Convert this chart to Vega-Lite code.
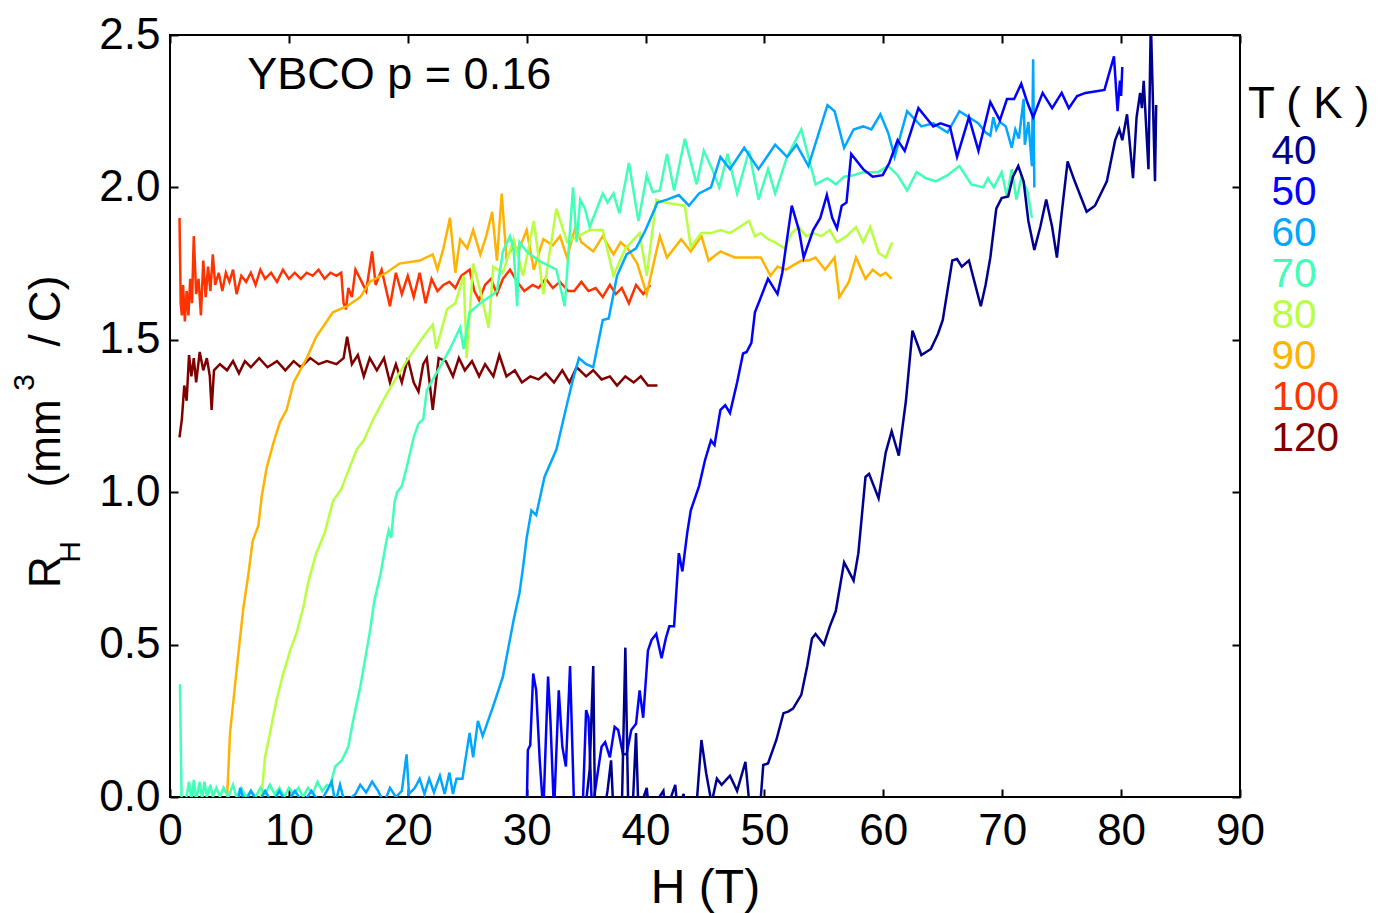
{
"$schema": "https://vega.github.io/schema/vega-lite/v6.json",
"width": 1070, "height": 762,
"autosize": {"type": "none"},
"padding": {"left": 170, "top": 35, "right": 143, "bottom": 116},
"background": "white",
"config": {
  "view": {"stroke": "black", "strokeWidth": 2},
  "font": "Liberation Sans",
  "axis": {"grid": false, "domain": false, "tickColor": "black", "tickWidth": 2, "tickSize": -8, "labelFont": "Liberation Sans", "labelFontSize": 44, "labelColor": "black", "titleFont": "Liberation Sans", "titleFontWeight": "normal", "titleColor": "black", "labelFlush": false, "labelOverlap": false},
  "legend": {"labelFont": "Liberation Sans", "titleFont": "Liberation Sans"}
},
"resolve": {"axis": {"x": "independent", "y": "independent"}},
"layer": [
{
"data": {"values": [
{"T":120,"H":0.8,"R":1.18},{"T":120,"H":1.0,"R":1.24},{"T":120,"H":1.2,"R":1.35},{"T":120,"H":1.4,"R":1.30},{"T":120,"H":1.6,"R":1.45},{"T":120,"H":1.8,"R":1.38},{"T":120,"H":2.0,"R":1.44},{"T":120,"H":2.2,"R":1.36},{"T":120,"H":2.5,"R":1.46},{"T":120,"H":2.8,"R":1.40},{"T":120,"H":3.1,"R":1.44},{"T":120,"H":3.35,"R":1.38},{"T":120,"H":3.5,"R":1.27},{"T":120,"H":3.7,"R":1.40},{"T":120,"H":4.2,"R":1.42},{"T":120,"H":4.8,"R":1.40},{"T":120,"H":5.3,"R":1.43},{"T":120,"H":5.8,"R":1.39},{"T":120,"H":6.3,"R":1.43},{"T":120,"H":6.8,"R":1.41},{"T":120,"H":7.5,"R":1.44},{"T":120,"H":8.2,"R":1.41},{"T":120,"H":9.0,"R":1.43},{"T":120,"H":9.7,"R":1.40},{"T":120,"H":10.4,"R":1.43},{"T":120,"H":11.0,"R":1.41},{"T":120,"H":11.8,"R":1.44},{"T":120,"H":12.5,"R":1.42},{"T":120,"H":13.2,"R":1.43},{"T":120,"H":14.0,"R":1.42},{"T":120,"H":14.6,"R":1.44},{"T":120,"H":14.9,"R":1.51},{"T":120,"H":15.3,"R":1.42},{"T":120,"H":15.8,"R":1.45},{"T":120,"H":16.3,"R":1.38},{"T":120,"H":16.8,"R":1.44},{"T":120,"H":17.4,"R":1.40},{"T":120,"H":18.0,"R":1.44},{"T":120,"H":18.5,"R":1.36},{"T":120,"H":19.0,"R":1.42},{"T":120,"H":19.5,"R":1.36},{"T":120,"H":20.0,"R":1.44},{"T":120,"H":20.5,"R":1.36},{"T":120,"H":20.9,"R":1.33},{"T":120,"H":21.3,"R":1.42},{"T":120,"H":21.6,"R":1.44},{"T":120,"H":22.1,"R":1.27},{"T":120,"H":22.6,"R":1.44},{"T":120,"H":23.2,"R":1.43},{"T":120,"H":23.8,"R":1.38},{"T":120,"H":24.3,"R":1.44},{"T":120,"H":24.8,"R":1.40},{"T":120,"H":25.4,"R":1.43},{"T":120,"H":26.0,"R":1.38},{"T":120,"H":26.5,"R":1.42},{"T":120,"H":27.2,"R":1.38},{"T":120,"H":27.7,"R":1.45},{"T":120,"H":28.3,"R":1.38},{"T":120,"H":29.0,"R":1.40},{"T":120,"H":29.6,"R":1.36},{"T":120,"H":30.3,"R":1.38},{"T":120,"H":31.0,"R":1.37},{"T":120,"H":31.6,"R":1.39},{"T":120,"H":32.3,"R":1.36},{"T":120,"H":33.0,"R":1.40},{"T":120,"H":33.6,"R":1.36},{"T":120,"H":34.2,"R":1.41},{"T":120,"H":35.0,"R":1.38},{"T":120,"H":35.6,"R":1.40},{"T":120,"H":36.3,"R":1.37},{"T":120,"H":37.0,"R":1.38},{"T":120,"H":37.6,"R":1.35},{"T":120,"H":38.3,"R":1.38},{"T":120,"H":39.0,"R":1.36},{"T":120,"H":39.6,"R":1.38},{"T":120,"H":40.2,"R":1.35},{"T":120,"H":41.0,"R":1.35},
{"T":100,"H":0.8,"R":1.90},{"T":100,"H":0.9,"R":1.62},{"T":100,"H":1.0,"R":1.58},{"T":100,"H":1.1,"R":1.68},{"T":100,"H":1.25,"R":1.56},{"T":100,"H":1.4,"R":1.66},{"T":100,"H":1.55,"R":1.58},{"T":100,"H":1.7,"R":1.70},{"T":100,"H":1.85,"R":1.62},{"T":100,"H":2.0,"R":1.84},{"T":100,"H":2.2,"R":1.65},{"T":100,"H":2.4,"R":1.70},{"T":100,"H":2.6,"R":1.58},{"T":100,"H":2.8,"R":1.76},{"T":100,"H":3.0,"R":1.64},{"T":100,"H":3.2,"R":1.74},{"T":100,"H":3.4,"R":1.66},{"T":100,"H":3.6,"R":1.78},{"T":100,"H":3.8,"R":1.68},{"T":100,"H":4.1,"R":1.72},{"T":100,"H":4.4,"R":1.66},{"T":100,"H":4.7,"R":1.72},{"T":100,"H":5.0,"R":1.69},{"T":100,"H":5.3,"R":1.73},{"T":100,"H":5.6,"R":1.65},{"T":100,"H":6.0,"R":1.71},{"T":100,"H":6.4,"R":1.69},{"T":100,"H":6.8,"R":1.72},{"T":100,"H":7.2,"R":1.68},{"T":100,"H":7.6,"R":1.73},{"T":100,"H":8.0,"R":1.70},{"T":100,"H":8.5,"R":1.72},{"T":100,"H":9.0,"R":1.69},{"T":100,"H":9.5,"R":1.73},{"T":100,"H":10.0,"R":1.70},{"T":100,"H":10.5,"R":1.72},{"T":100,"H":11.0,"R":1.70},{"T":100,"H":11.5,"R":1.72},{"T":100,"H":12.0,"R":1.71},{"T":100,"H":12.5,"R":1.73},{"T":100,"H":13.0,"R":1.70},{"T":100,"H":13.5,"R":1.72},{"T":100,"H":14.0,"R":1.71},{"T":100,"H":14.4,"R":1.72},{"T":100,"H":14.6,"R":1.62},{"T":100,"H":14.8,"R":1.60},{"T":100,"H":15.0,"R":1.67},{"T":100,"H":15.3,"R":1.64},{"T":100,"H":15.6,"R":1.73},{"T":100,"H":16.0,"R":1.70},{"T":100,"H":16.5,"R":1.66},{"T":100,"H":17.0,"R":1.79},{"T":100,"H":17.3,"R":1.68},{"T":100,"H":17.8,"R":1.73},{"T":100,"H":18.5,"R":1.61},{"T":100,"H":19.0,"R":1.72},{"T":100,"H":19.5,"R":1.65},{"T":100,"H":20.0,"R":1.71},{"T":100,"H":20.5,"R":1.64},{"T":100,"H":21.0,"R":1.72},{"T":100,"H":21.5,"R":1.62},{"T":100,"H":22.0,"R":1.70},{"T":100,"H":22.5,"R":1.66},{"T":100,"H":23.0,"R":1.68},{"T":100,"H":23.5,"R":1.69},{"T":100,"H":24.0,"R":1.67},{"T":100,"H":24.5,"R":1.71},{"T":100,"H":25.2,"R":1.73},{"T":100,"H":25.6,"R":1.66},{"T":100,"H":26.0,"R":1.63},{"T":100,"H":26.5,"R":1.68},{"T":100,"H":27.0,"R":1.70},{"T":100,"H":27.5,"R":1.65},{"T":100,"H":28.0,"R":1.70},{"T":100,"H":28.6,"R":1.73},{"T":100,"H":29.2,"R":1.69},{"T":100,"H":29.8,"R":1.66},{"T":100,"H":30.5,"R":1.68},{"T":100,"H":31.0,"R":1.67},{"T":100,"H":31.6,"R":1.70},{"T":100,"H":32.2,"R":1.67},{"T":100,"H":32.8,"R":1.69},{"T":100,"H":33.5,"R":1.66},{"T":100,"H":34.0,"R":1.66},{"T":100,"H":34.6,"R":1.69},{"T":100,"H":35.2,"R":1.66},{"T":100,"H":35.8,"R":1.67},{"T":100,"H":36.4,"R":1.64},{"T":100,"H":37.0,"R":1.68},{"T":100,"H":37.5,"R":1.65},{"T":100,"H":38.0,"R":1.67},{"T":100,"H":38.6,"R":1.62},{"T":100,"H":39.2,"R":1.68},{"T":100,"H":39.8,"R":1.65},{"T":100,"H":40.4,"R":1.68},
{"T":90,"H":4.77,"R":-0.03},{"T":90,"H":5.05,"R":0.21},{"T":90,"H":5.75,"R":0.47},{"T":90,"H":6.17,"R":0.62},{"T":90,"H":6.59,"R":0.73},{"T":90,"H":6.95,"R":0.84},{"T":90,"H":7.43,"R":0.89},{"T":90,"H":7.71,"R":0.985},{"T":90,"H":8.13,"R":1.08},{"T":90,"H":8.69,"R":1.16},{"T":90,"H":9.25,"R":1.23},{"T":90,"H":9.81,"R":1.27},{"T":90,"H":10.4,"R":1.36},{"T":90,"H":11.5,"R":1.44},{"T":90,"H":12.3,"R":1.51},{"T":90,"H":13.7,"R":1.59},{"T":90,"H":14.9,"R":1.61},{"T":90,"H":16.0,"R":1.64},{"T":90,"H":16.8,"R":1.69},{"T":90,"H":18.2,"R":1.72},{"T":90,"H":19.3,"R":1.75},{"T":90,"H":21.0,"R":1.76},{"T":90,"H":22.1,"R":1.78},{"T":90,"H":22.5,"R":1.73},{"T":90,"H":23.0,"R":1.80},{"T":90,"H":23.55,"R":1.90},{"T":90,"H":24.0,"R":1.72},{"T":90,"H":24.4,"R":1.83},{"T":90,"H":25.0,"R":1.80},{"T":90,"H":25.5,"R":1.86},{"T":90,"H":26.1,"R":1.78},{"T":90,"H":26.6,"R":1.84},{"T":90,"H":27.1,"R":1.92},{"T":90,"H":27.5,"R":1.76},{"T":90,"H":27.9,"R":1.98},{"T":90,"H":28.3,"R":1.77},{"T":90,"H":28.9,"R":1.805},{"T":90,"H":29.4,"R":1.80},{"T":90,"H":30.0,"R":1.86},{"T":90,"H":30.6,"R":1.73},{"T":90,"H":31.4,"R":1.83},{"T":90,"H":32.2,"R":1.81},{"T":90,"H":32.8,"R":1.84},{"T":90,"H":33.4,"R":1.77},{"T":90,"H":34.1,"R":1.87},{"T":90,"H":34.6,"R":1.82},{"T":90,"H":35.6,"R":1.79},{"T":90,"H":36.4,"R":1.84},{"T":90,"H":37.3,"R":1.78},{"T":90,"H":37.9,"R":1.82},{"T":90,"H":38.5,"R":1.80},{"T":90,"H":39.3,"R":1.75},{"T":90,"H":40.1,"R":1.65},{"T":90,"H":41.2,"R":1.84},{"T":90,"H":41.8,"R":1.77},{"T":90,"H":43.0,"R":1.83},{"T":90,"H":43.8,"R":1.79},{"T":90,"H":44.7,"R":1.84},{"T":90,"H":45.3,"R":1.76},{"T":90,"H":46.3,"R":1.79},{"T":90,"H":47.5,"R":1.77},{"T":90,"H":48.6,"R":1.77},{"T":90,"H":49.7,"R":1.77},{"T":90,"H":50.5,"R":1.71},{"T":90,"H":51.1,"R":1.74},{"T":90,"H":51.8,"R":1.73},{"T":90,"H":53.1,"R":1.76},{"T":90,"H":53.7,"R":1.76},{"T":90,"H":54.3,"R":1.77},{"T":90,"H":55.1,"R":1.73},{"T":90,"H":55.9,"R":1.77},{"T":90,"H":56.3,"R":1.64},{"T":90,"H":57.1,"R":1.69},{"T":90,"H":57.7,"R":1.77},{"T":90,"H":58.5,"R":1.70},{"T":90,"H":59.1,"R":1.73},{"T":90,"H":59.75,"R":1.71},{"T":90,"H":60.2,"R":1.72},{"T":90,"H":60.7,"R":1.70},
{"T":80,"H":7.4,"R":-0.03},{"T":80,"H":7.71,"R":0.01},{"T":80,"H":7.99,"R":0.13},{"T":80,"H":8.41,"R":0.21},{"T":80,"H":8.97,"R":0.32},{"T":80,"H":9.53,"R":0.405},{"T":80,"H":10.1,"R":0.48},{"T":80,"H":10.66,"R":0.54},{"T":80,"H":11.2,"R":0.62},{"T":80,"H":11.6,"R":0.70},{"T":80,"H":12.3,"R":0.80},{"T":80,"H":13.0,"R":0.865},{"T":80,"H":13.7,"R":0.97},{"T":80,"H":14.4,"R":1.01},{"T":80,"H":15.0,"R":1.07},{"T":80,"H":15.7,"R":1.14},{"T":80,"H":16.3,"R":1.17},{"T":80,"H":17.1,"R":1.24},{"T":80,"H":18.2,"R":1.32},{"T":80,"H":19.9,"R":1.43},{"T":80,"H":21.3,"R":1.51},{"T":80,"H":22.1,"R":1.55},{"T":80,"H":22.4,"R":1.47},{"T":80,"H":23.3,"R":1.60},{"T":80,"H":24.0,"R":1.62},{"T":80,"H":24.7,"R":1.71},{"T":80,"H":24.95,"R":1.44},{"T":80,"H":25.5,"R":1.75},{"T":80,"H":26.1,"R":1.66},{"T":80,"H":26.8,"R":1.54},{"T":80,"H":27.2,"R":1.74},{"T":80,"H":28.0,"R":1.72},{"T":80,"H":28.9,"R":1.83},{"T":80,"H":29.7,"R":1.71},{"T":80,"H":30.6,"R":1.89},{"T":80,"H":31.4,"R":1.65},{"T":80,"H":32.5,"R":1.93},{"T":80,"H":33.4,"R":1.82},{"T":80,"H":35.3,"R":1.86},{"T":80,"H":36.4,"R":1.86},{"T":80,"H":37.3,"R":1.71},{"T":80,"H":38.3,"R":1.80},{"T":80,"H":39.5,"R":1.85},{"T":80,"H":40.1,"R":1.71},{"T":80,"H":40.9,"R":1.96},{"T":80,"H":41.6,"R":1.95},{"T":80,"H":43.3,"R":1.94},{"T":80,"H":43.8,"R":1.805},{"T":80,"H":44.7,"R":1.85},{"T":80,"H":45.5,"R":1.85},{"T":80,"H":46.3,"R":1.86},{"T":80,"H":47.1,"R":1.85},{"T":80,"H":47.9,"R":1.87},{"T":80,"H":48.7,"R":1.89},{"T":80,"H":49.2,"R":1.84},{"T":80,"H":49.7,"R":1.85},{"T":80,"H":50.3,"R":1.83},{"T":80,"H":50.9,"R":1.82},{"T":80,"H":51.7,"R":1.80},{"T":80,"H":52.3,"R":1.85},{"T":80,"H":52.9,"R":1.87},{"T":80,"H":53.5,"R":1.84},{"T":80,"H":54.1,"R":1.85},{"T":80,"H":54.8,"R":1.84},{"T":80,"H":55.5,"R":1.86},{"T":80,"H":56.1,"R":1.82},{"T":80,"H":56.9,"R":1.84},{"T":80,"H":57.7,"R":1.87},{"T":80,"H":58.3,"R":1.82},{"T":80,"H":58.9,"R":1.87},{"T":80,"H":59.6,"R":1.785},{"T":80,"H":60.2,"R":1.77},{"T":80,"H":60.75,"R":1.82},
{"T":70,"H":0.84,"R":0.37},{"T":70,"H":0.98,"R":-0.02},{"T":70,"H":1.3,"R":-0.02},{"T":70,"H":1.6,"R":0.05},{"T":70,"H":1.8,"R":-0.01},{"T":70,"H":2.0,"R":0.056},{"T":70,"H":2.2,"R":-0.01},{"T":70,"H":2.5,"R":0.05},{"T":70,"H":2.7,"R":-0.01},{"T":70,"H":2.9,"R":0.05},{"T":70,"H":3.1,"R":0.0},{"T":70,"H":3.4,"R":0.04},{"T":70,"H":3.6,"R":0.0},{"T":70,"H":3.9,"R":0.03},{"T":70,"H":4.2,"R":0.0},{"T":70,"H":4.5,"R":0.03},{"T":70,"H":4.9,"R":0.0},{"T":70,"H":5.3,"R":0.04},{"T":70,"H":5.6,"R":0.0},{"T":70,"H":6.0,"R":0.03},{"T":70,"H":6.4,"R":0.0},{"T":70,"H":6.8,"R":0.02},{"T":70,"H":7.2,"R":0.0},{"T":70,"H":7.6,"R":0.03},{"T":70,"H":8.0,"R":0.01},{"T":70,"H":8.4,"R":0.04},{"T":70,"H":8.8,"R":0.01},{"T":70,"H":9.2,"R":0.03},{"T":70,"H":9.6,"R":0.0},{"T":70,"H":10.0,"R":0.03},{"T":70,"H":10.4,"R":0.01},{"T":70,"H":10.8,"R":0.03},{"T":70,"H":11.2,"R":0.0},{"T":70,"H":11.6,"R":0.03},{"T":70,"H":12.0,"R":0.01},{"T":70,"H":12.4,"R":0.05},{"T":70,"H":12.8,"R":0.02},{"T":70,"H":13.2,"R":0.04},{"T":70,"H":13.46,"R":0.034},{"T":70,"H":13.9,"R":0.10},{"T":70,"H":14.44,"R":0.12},{"T":70,"H":15.0,"R":0.165},{"T":70,"H":15.4,"R":0.25},{"T":70,"H":16.0,"R":0.36},{"T":70,"H":16.4,"R":0.45},{"T":70,"H":16.8,"R":0.54},{"T":70,"H":17.2,"R":0.646},{"T":70,"H":17.7,"R":0.73},{"T":70,"H":18.2,"R":0.84},{"T":70,"H":18.4,"R":0.875},{"T":70,"H":18.6,"R":0.85},{"T":70,"H":18.9,"R":0.97},{"T":70,"H":19.1,"R":1.0},{"T":70,"H":19.5,"R":1.02},{"T":70,"H":19.9,"R":1.08},{"T":70,"H":20.5,"R":1.18},{"T":70,"H":20.9,"R":1.225},{"T":70,"H":21.3,"R":1.24},{"T":70,"H":21.6,"R":1.335},{"T":70,"H":22.7,"R":1.41},{"T":70,"H":23.55,"R":1.47},{"T":70,"H":24.4,"R":1.54},{"T":70,"H":24.7,"R":1.47},{"T":70,"H":25.2,"R":1.59},{"T":70,"H":26.1,"R":1.62},{"T":70,"H":27.2,"R":1.65},{"T":70,"H":27.5,"R":1.66},{"T":70,"H":28.0,"R":1.79},{"T":70,"H":28.6,"R":1.84},{"T":70,"H":28.9,"R":1.80},{"T":70,"H":29.2,"R":1.61},{"T":70,"H":29.4,"R":1.82},{"T":70,"H":30.0,"R":1.79},{"T":70,"H":31.0,"R":1.76},{"T":70,"H":32.5,"R":1.73},{"T":70,"H":33.2,"R":1.61},{"T":70,"H":33.9,"R":2.0},{"T":70,"H":34.2,"R":1.82},{"T":70,"H":34.5,"R":1.96},{"T":70,"H":34.9,"R":1.93},{"T":70,"H":35.3,"R":1.87},{"T":70,"H":36.4,"R":1.98},{"T":70,"H":36.8,"R":1.95},{"T":70,"H":37.3,"R":1.98},{"T":70,"H":37.8,"R":1.915},{"T":70,"H":38.6,"R":2.08},{"T":70,"H":39.4,"R":1.89},{"T":70,"H":40.1,"R":2.04},{"T":70,"H":40.6,"R":1.985},{"T":70,"H":41.2,"R":1.99},{"T":70,"H":41.8,"R":2.11},{"T":70,"H":42.4,"R":1.99},{"T":70,"H":43.3,"R":2.16},{"T":70,"H":44.3,"R":2.01},{"T":70,"H":44.9,"R":2.12},{"T":70,"H":45.6,"R":2.06},{"T":70,"H":46.2,"R":2.0},{"T":70,"H":46.9,"R":2.11},{"T":70,"H":47.7,"R":1.98},{"T":70,"H":48.7,"R":2.12},{"T":70,"H":49.5,"R":1.96},{"T":70,"H":50.3,"R":2.06},{"T":70,"H":50.9,"R":1.98},{"T":70,"H":51.9,"R":2.10},{"T":70,"H":53.1,"R":2.19},{"T":70,"H":54.3,"R":2.01},{"T":70,"H":55.3,"R":2.03},{"T":70,"H":56.0,"R":2.01},{"T":70,"H":56.7,"R":2.035},{"T":70,"H":57.5,"R":2.04},{"T":70,"H":58.3,"R":2.05},{"T":70,"H":59.55,"R":2.05},{"T":70,"H":60.4,"R":2.07},{"T":70,"H":61.2,"R":2.04},{"T":70,"H":62.0,"R":1.99},{"T":70,"H":62.8,"R":2.05},{"T":70,"H":63.6,"R":2.03},{"T":70,"H":64.4,"R":2.02},{"T":70,"H":65.4,"R":2.04},{"T":70,"H":66.4,"R":2.07},{"T":70,"H":67.4,"R":2.01},{"T":70,"H":68.4,"R":2.0},{"T":70,"H":68.8,"R":2.03},{"T":70,"H":69.3,"R":2.0},{"T":70,"H":69.95,"R":2.05},{"T":70,"H":70.4,"R":1.97},{"T":70,"H":70.8,"R":2.06},{"T":70,"H":71.2,"R":1.96},{"T":70,"H":71.6,"R":2.03},{"T":70,"H":72.1,"R":1.99},{"T":70,"H":72.5,"R":1.90},
{"T":60,"H":5.7,"R":-0.03},{"T":60,"H":5.9,"R":0.03},{"T":60,"H":6.3,"R":-0.02},{"T":60,"H":6.8,"R":0.02},{"T":60,"H":7.4,"R":-0.02},{"T":60,"H":8.0,"R":0.02},{"T":60,"H":8.6,"R":-0.02},{"T":60,"H":9.2,"R":0.02},{"T":60,"H":9.8,"R":-0.02},{"T":60,"H":10.5,"R":0.02},{"T":60,"H":11.2,"R":-0.02},{"T":60,"H":11.9,"R":0.02},{"T":60,"H":12.6,"R":-0.02},{"T":60,"H":13.2,"R":0.02},{"T":60,"H":13.6,"R":0.05},{"T":60,"H":13.9,"R":-0.02},{"T":60,"H":14.3,"R":0.04},{"T":60,"H":14.7,"R":-0.02},{"T":60,"H":15.6,"R":0.01},{"T":60,"H":16.0,"R":0.04},{"T":60,"H":16.5,"R":0.015},{"T":60,"H":17.0,"R":0.05},{"T":60,"H":17.5,"R":0.02},{"T":60,"H":18.0,"R":-0.02},{"T":60,"H":18.5,"R":0.03},{"T":60,"H":19.0,"R":0.0},{"T":60,"H":19.5,"R":0.02},{"T":60,"H":19.9,"R":0.14},{"T":60,"H":20.1,"R":0.01},{"T":60,"H":20.6,"R":0.03},{"T":60,"H":21.0,"R":0.06},{"T":60,"H":21.4,"R":0.01},{"T":60,"H":21.8,"R":0.06},{"T":60,"H":22.2,"R":0.015},{"T":60,"H":22.7,"R":0.07},{"T":60,"H":23.1,"R":0.01},{"T":60,"H":23.5,"R":0.08},{"T":60,"H":23.8,"R":0.01},{"T":60,"H":24.1,"R":0.06},{"T":60,"H":24.6,"R":0.06},{"T":60,"H":25.2,"R":0.21},{"T":60,"H":25.5,"R":0.13},{"T":60,"H":25.9,"R":0.25},{"T":60,"H":26.3,"R":0.20},{"T":60,"H":27.2,"R":0.30},{"T":60,"H":28.0,"R":0.395},{"T":60,"H":28.9,"R":0.58},{"T":60,"H":29.4,"R":0.67},{"T":60,"H":29.7,"R":0.755},{"T":60,"H":30.0,"R":0.85},{"T":60,"H":30.4,"R":0.94},{"T":60,"H":30.8,"R":0.925},{"T":60,"H":31.5,"R":1.05},{"T":60,"H":32.5,"R":1.14},{"T":60,"H":33.4,"R":1.29},{"T":60,"H":33.9,"R":1.37},{"T":60,"H":34.4,"R":1.44},{"T":60,"H":35.0,"R":1.42},{"T":60,"H":35.6,"R":1.41},{"T":60,"H":36.4,"R":1.565},{"T":60,"H":36.9,"R":1.57},{"T":60,"H":37.6,"R":1.71},{"T":60,"H":38.4,"R":1.78},{"T":60,"H":39.2,"R":1.80},{"T":60,"H":40.0,"R":1.86},{"T":60,"H":41.0,"R":1.95},{"T":60,"H":41.8,"R":1.96},{"T":60,"H":42.8,"R":1.975},{"T":60,"H":43.65,"R":1.94},{"T":60,"H":44.5,"R":1.98},{"T":60,"H":45.5,"R":2.0},{"T":60,"H":46.3,"R":2.10},{"T":60,"H":47.1,"R":2.06},{"T":60,"H":48.3,"R":2.13},{"T":60,"H":49.5,"R":2.06},{"T":60,"H":50.9,"R":2.14},{"T":60,"H":51.9,"R":2.10},{"T":60,"H":52.7,"R":2.14},{"T":60,"H":53.7,"R":2.07},{"T":60,"H":54.5,"R":2.17},{"T":60,"H":55.3,"R":2.27},{"T":60,"H":55.9,"R":2.25},{"T":60,"H":56.7,"R":2.13},{"T":60,"H":57.5,"R":2.19},{"T":60,"H":58.3,"R":2.20},{"T":60,"H":59.0,"R":2.19},{"T":60,"H":59.75,"R":2.24},{"T":60,"H":60.4,"R":2.18},{"T":60,"H":60.95,"R":2.10},{"T":60,"H":62.0,"R":2.25},{"T":60,"H":63.2,"R":2.20},{"T":60,"H":64.2,"R":2.21},{"T":60,"H":65.4,"R":2.18},{"T":60,"H":66.4,"R":2.25},{"T":60,"H":67.2,"R":2.23},{"T":60,"H":68.0,"R":2.21},{"T":60,"H":68.6,"R":2.18},{"T":60,"H":69.0,"R":2.17},{"T":60,"H":69.25,"R":2.23},{"T":60,"H":69.5,"R":2.19},{"T":60,"H":69.8,"R":2.215},{"T":60,"H":70.3,"R":2.20},{"T":60,"H":70.8,"R":2.13},{"T":60,"H":71.1,"R":2.19},{"T":60,"H":71.4,"R":2.16},{"T":60,"H":71.8,"R":2.29},{"T":60,"H":71.9,"R":2.14},{"T":60,"H":72.2,"R":2.215},{"T":60,"H":72.5,"R":2.07},{"T":60,"H":72.6,"R":2.42},{"T":60,"H":72.7,"R":2.0},
{"T":50,"H":30.0,"R":-0.05},{"T":50,"H":30.1,"R":0.154},{"T":50,"H":30.3,"R":0.17},{"T":50,"H":30.55,"R":0.405},{"T":50,"H":30.8,"R":0.35},{"T":50,"H":31.1,"R":0.12},{"T":50,"H":31.4,"R":-0.05},{"T":50,"H":31.8,"R":0.395},{"T":50,"H":32.0,"R":0.25},{"T":50,"H":32.3,"R":-0.05},{"T":50,"H":32.7,"R":0.35},{"T":50,"H":33.0,"R":0.165},{"T":50,"H":33.3,"R":0.10},{"T":50,"H":33.65,"R":0.43},{"T":50,"H":34.0,"R":-0.05},{"T":50,"H":34.7,"R":-0.05},{"T":50,"H":35.0,"R":0.285},{"T":50,"H":35.2,"R":0.26},{"T":50,"H":35.5,"R":-0.05},{"T":50,"H":35.9,"R":0.06},{"T":50,"H":36.3,"R":0.165},{"T":50,"H":36.6,"R":0.18},{"T":50,"H":37.0,"R":0.13},{"T":50,"H":37.4,"R":0.23},{"T":50,"H":37.7,"R":0.22},{"T":50,"H":38.1,"R":0.14},{"T":50,"H":38.4,"R":0.14},{"T":50,"H":38.8,"R":0.22},{"T":50,"H":39.2,"R":0.24},{"T":50,"H":39.5,"R":0.35},{"T":50,"H":39.8,"R":0.26},{"T":50,"H":40.2,"R":0.48},{"T":50,"H":40.5,"R":0.515},{"T":50,"H":40.9,"R":0.535},{"T":50,"H":41.35,"R":0.455},{"T":50,"H":41.7,"R":0.52},{"T":50,"H":42.0,"R":0.56},{"T":50,"H":42.4,"R":0.56},{"T":50,"H":42.8,"R":0.80},{"T":50,"H":43.1,"R":0.74},{"T":50,"H":43.5,"R":0.865},{"T":50,"H":43.8,"R":0.94},{"T":50,"H":44.5,"R":1.02},{"T":50,"H":45.0,"R":1.105},{"T":50,"H":45.5,"R":1.17},{"T":50,"H":45.8,"R":1.155},{"T":50,"H":46.3,"R":1.27},{"T":50,"H":46.7,"R":1.285},{"T":50,"H":47.1,"R":1.26},{"T":50,"H":47.7,"R":1.36},{"T":50,"H":48.2,"R":1.455},{"T":50,"H":48.5,"R":1.46},{"T":50,"H":48.9,"R":1.49},{"T":50,"H":49.2,"R":1.59},{"T":50,"H":49.6,"R":1.63},{"T":50,"H":50.3,"R":1.70},{"T":50,"H":51.1,"R":1.65},{"T":50,"H":51.5,"R":1.72},{"T":50,"H":52.3,"R":1.94},{"T":50,"H":52.9,"R":1.86},{"T":50,"H":53.3,"R":1.77},{"T":50,"H":54.1,"R":1.86},{"T":50,"H":54.7,"R":1.90},{"T":50,"H":55.25,"R":1.975},{"T":50,"H":55.7,"R":1.90},{"T":50,"H":56.1,"R":1.865},{"T":50,"H":56.5,"R":1.94},{"T":50,"H":56.9,"R":1.95},{"T":50,"H":57.3,"R":2.11},{"T":50,"H":58.3,"R":2.06},{"T":50,"H":59.1,"R":2.035},{"T":50,"H":59.95,"R":2.04},{"T":50,"H":60.5,"R":2.08},{"T":50,"H":61.2,"R":2.155},{"T":50,"H":61.8,"R":2.12},{"T":50,"H":62.95,"R":2.26},{"T":50,"H":64.2,"R":2.20},{"T":50,"H":64.8,"R":2.21},{"T":50,"H":65.6,"R":2.20},{"T":50,"H":66.2,"R":2.10},{"T":50,"H":67.2,"R":2.23},{"T":50,"H":68.0,"R":2.12},{"T":50,"H":69.0,"R":2.28},{"T":50,"H":69.8,"R":2.22},{"T":50,"H":70.4,"R":2.29},{"T":50,"H":71.0,"R":2.29},{"T":50,"H":71.6,"R":2.34},{"T":50,"H":72.1,"R":2.28},{"T":50,"H":72.6,"R":2.23},{"T":50,"H":73.4,"R":2.31},{"T":50,"H":74.2,"R":2.26},{"T":50,"H":75.0,"R":2.31},{"T":50,"H":75.6,"R":2.26},{"T":50,"H":76.3,"R":2.30},{"T":50,"H":77.0,"R":2.31},{"T":50,"H":78.6,"R":2.32},{"T":50,"H":79.4,"R":2.43},{"T":50,"H":79.7,"R":2.25},{"T":50,"H":79.9,"R":2.35},{"T":50,"H":80.0,"R":2.30},{"T":50,"H":80.1,"R":2.395},
{"T":40,"H":34.9,"R":-0.05},{"T":40,"H":35.3,"R":0.09},{"T":40,"H":35.6,"R":0.43},{"T":40,"H":35.75,"R":-0.05},{"T":40,"H":36.5,"R":-0.05},{"T":40,"H":36.8,"R":0.02},{"T":40,"H":37.1,"R":0.12},{"T":40,"H":37.3,"R":-0.05},{"T":40,"H":38.0,"R":-0.05},{"T":40,"H":38.3,"R":0.49},{"T":40,"H":38.55,"R":-0.05},{"T":40,"H":38.9,"R":-0.05},{"T":40,"H":39.2,"R":0.21},{"T":40,"H":39.4,"R":-0.05},{"T":40,"H":40.1,"R":0.03},{"T":40,"H":40.3,"R":-0.05},{"T":40,"H":41.5,"R":0.02},{"T":40,"H":41.7,"R":-0.05},{"T":40,"H":42.5,"R":0.04},{"T":40,"H":42.7,"R":-0.05},{"T":40,"H":43.2,"R":0.01},{"T":40,"H":43.4,"R":-0.05},{"T":40,"H":44.3,"R":-0.02},{"T":40,"H":44.7,"R":0.187},{"T":40,"H":45.1,"R":0.078},{"T":40,"H":45.55,"R":-0.02},{"T":40,"H":46.0,"R":0.06},{"T":40,"H":46.4,"R":0.04},{"T":40,"H":47.1,"R":0.07},{"T":40,"H":47.7,"R":0.02},{"T":40,"H":48.4,"R":0.115},{"T":40,"H":48.8,"R":-0.05},{"T":40,"H":49.6,"R":-0.05},{"T":40,"H":49.9,"R":0.105},{"T":40,"H":50.3,"R":0.11},{"T":40,"H":51.0,"R":0.187},{"T":40,"H":51.6,"R":0.275},{"T":40,"H":52.0,"R":0.28},{"T":40,"H":52.4,"R":0.29},{"T":40,"H":53.1,"R":0.335},{"T":40,"H":53.6,"R":0.43},{"T":40,"H":54.0,"R":0.52},{"T":40,"H":54.3,"R":0.535},{"T":40,"H":55.0,"R":0.50},{"T":40,"H":55.5,"R":0.56},{"T":40,"H":56.0,"R":0.61},{"T":40,"H":56.7,"R":0.77},{"T":40,"H":57.1,"R":0.74},{"T":40,"H":57.5,"R":0.71},{"T":40,"H":57.9,"R":0.80},{"T":40,"H":58.5,"R":1.05},{"T":40,"H":58.8,"R":1.06},{"T":40,"H":59.6,"R":0.98},{"T":40,"H":60.2,"R":1.13},{"T":40,"H":60.7,"R":1.20},{"T":40,"H":61.3,"R":1.12},{"T":40,"H":61.9,"R":1.30},{"T":40,"H":62.45,"R":1.53},{"T":40,"H":63.2,"R":1.45},{"T":40,"H":64.0,"R":1.47},{"T":40,"H":64.6,"R":1.52},{"T":40,"H":65.0,"R":1.565},{"T":40,"H":65.8,"R":1.76},{"T":40,"H":66.2,"R":1.765},{"T":40,"H":66.6,"R":1.74},{"T":40,"H":67.2,"R":1.76},{"T":40,"H":67.6,"R":1.70},{"T":40,"H":68.2,"R":1.61},{"T":40,"H":68.6,"R":1.68},{"T":40,"H":69.0,"R":1.77},{"T":40,"H":69.5,"R":1.93},{"T":40,"H":69.95,"R":1.965},{"T":40,"H":70.5,"R":1.97},{"T":40,"H":70.9,"R":2.035},{"T":40,"H":71.35,"R":2.07},{"T":40,"H":71.8,"R":2.02},{"T":40,"H":72.2,"R":1.89},{"T":40,"H":72.7,"R":1.795},{"T":40,"H":73.2,"R":1.87},{"T":40,"H":73.7,"R":1.96},{"T":40,"H":74.2,"R":1.87},{"T":40,"H":74.6,"R":1.77},{"T":40,"H":75.0,"R":1.915},{"T":40,"H":75.5,"R":2.085},{"T":40,"H":76.1,"R":2.02},{"T":40,"H":76.6,"R":1.97},{"T":40,"H":77.1,"R":1.92},{"T":40,"H":77.8,"R":1.94},{"T":40,"H":78.8,"R":2.02},{"T":40,"H":79.5,"R":2.155},{"T":40,"H":79.85,"R":2.19},{"T":40,"H":80.1,"R":2.155},{"T":40,"H":80.5,"R":2.24},{"T":40,"H":81.0,"R":2.03},{"T":40,"H":81.3,"R":2.23},{"T":40,"H":81.6,"R":2.31},{"T":40,"H":81.75,"R":2.26},{"T":40,"H":81.9,"R":2.35},{"T":40,"H":82.3,"R":2.06},{"T":40,"H":82.5,"R":2.55},{"T":40,"H":82.85,"R":2.02},{"T":40,"H":82.95,"R":2.27}
]},
"mark": {"type": "line", "strokeWidth": 2.5, "clip": true},
"encoding": {
  "x": {"field": "H", "type": "quantitative", "scale": {"domain": [0, 90], "nice": false, "zero": false},
        "axis": {"values": [0,10,20,30,40,50,60,70,80,90], "title": "H (T)", "titleFontSize": 48, "titlePadding": 11, "labelPadding": 20}},
  "y": {"field": "R", "type": "quantitative", "scale": {"domain": [0, 2.5], "nice": false, "zero": false},
        "axis": {"values": [0,0.5,1,1.5,2,2.5], "format": ".1f", "title": null, "labelPadding": 18}},
  "color": {"field": "T", "type": "ordinal",
        "scale": {"domain": [40,50,60,70,80,90,100,120], "range": ["#00008f","#0000ff","#00a6ff","#40ffb7","#b7ff40","#ffb200","#ff3300","#800000"]},
        "legend": {"orient": "none", "legendX": 1078, "legendY": 48, "title": "T ( K )", "titleFontSize": 44, "titleFontWeight": "normal", "titleColor": "black", "titlePadding": 5, "labelFontSize": 40.5, "labelAlign": "left", "labelOffset": -17, "labelLimit": 300, "symbolSize": 0, "symbolOpacity": 0, "symbolStrokeWidth": 0, "rowPadding": 0,
                   "encode": {"labels": {"update": {"fill": {"scale": "color", "field": "value"}}}}}}
}
},
{
"data": {"values": [{"label": "YBCO p = 0.16"}]},
"mark": {"type": "text", "align": "left", "baseline": "alphabetic", "fontSize": 45, "font": "Liberation Sans", "color": "black"},
"encoding": {
  "x": {"datum": 6.5, "type": "quantitative", "scale": {"domain": [0, 90], "nice": false, "zero": false},
        "axis": {"orient": "top", "values": [0,10,20,30,40,50,60,70,80,90], "labels": false, "title": null}},
  "y": {"datum": 2.323, "type": "quantitative", "scale": {"domain": [0, 2.5], "nice": false, "zero": false},
        "axis": {"orient": "right", "values": [0,0.5,1,1.5,2,2.5], "labels": false, "title": null}},
  "text": {"field": "label"}
}
},
{
"data": {"values": [{"label": "R"}]},
"mark": {"type": "text", "align": "center", "baseline": "alphabetic", "angle": 270, "fontSize": 44, "font": "Liberation Sans", "color": "black"},
"encoding": {
  "x": {"datum": -9.25, "type": "quantitative", "scale": {"domain": [0, 90], "nice": false, "zero": false}, "axis": null},
  "y": {"datum": 0.738, "type": "quantitative", "scale": {"domain": [0, 2.5], "nice": false, "zero": false}, "axis": null},
  "text": {"field": "label"}
}
},
{
"data": {"values": [{"label": "H"}]},
"mark": {"type": "text", "align": "center", "baseline": "alphabetic", "angle": 270, "fontSize": 30, "font": "Liberation Sans", "color": "black"},
"encoding": {
  "x": {"datum": -7.57, "type": "quantitative", "scale": {"domain": [0, 90], "nice": false, "zero": false}, "axis": null},
  "y": {"datum": 0.804, "type": "quantitative", "scale": {"domain": [0, 2.5], "nice": false, "zero": false}, "axis": null},
  "text": {"field": "label"}
}
},
{
"data": {"values": [{"label": "(mm"}]},
"mark": {"type": "text", "align": "center", "baseline": "alphabetic", "angle": 270, "fontSize": 44, "font": "Liberation Sans", "color": "black"},
"encoding": {
  "x": {"datum": -9.25, "type": "quantitative", "scale": {"domain": [0, 90], "nice": false, "zero": false}, "axis": null},
  "y": {"datum": 1.16, "type": "quantitative", "scale": {"domain": [0, 2.5], "nice": false, "zero": false}, "axis": null},
  "text": {"field": "label"}
}
},
{
"data": {"values": [{"label": "3"}]},
"mark": {"type": "text", "align": "center", "baseline": "alphabetic", "angle": 270, "fontSize": 30, "font": "Liberation Sans", "color": "black"},
"encoding": {
  "x": {"datum": -11.4, "type": "quantitative", "scale": {"domain": [0, 90], "nice": false, "zero": false}, "axis": null},
  "y": {"datum": 1.36, "type": "quantitative", "scale": {"domain": [0, 2.5], "nice": false, "zero": false}, "axis": null},
  "text": {"field": "label"}
}
},
{
"data": {"values": [{"label": "/  C)"}]},
"mark": {"type": "text", "align": "center", "baseline": "alphabetic", "angle": 270, "fontSize": 44, "font": "Liberation Sans", "color": "black"},
"encoding": {
  "x": {"datum": -9.25, "type": "quantitative", "scale": {"domain": [0, 90], "nice": false, "zero": false}, "axis": null},
  "y": {"datum": 1.594, "type": "quantitative", "scale": {"domain": [0, 2.5], "nice": false, "zero": false}, "axis": null},
  "text": {"field": "label"}
}
}
]
}
